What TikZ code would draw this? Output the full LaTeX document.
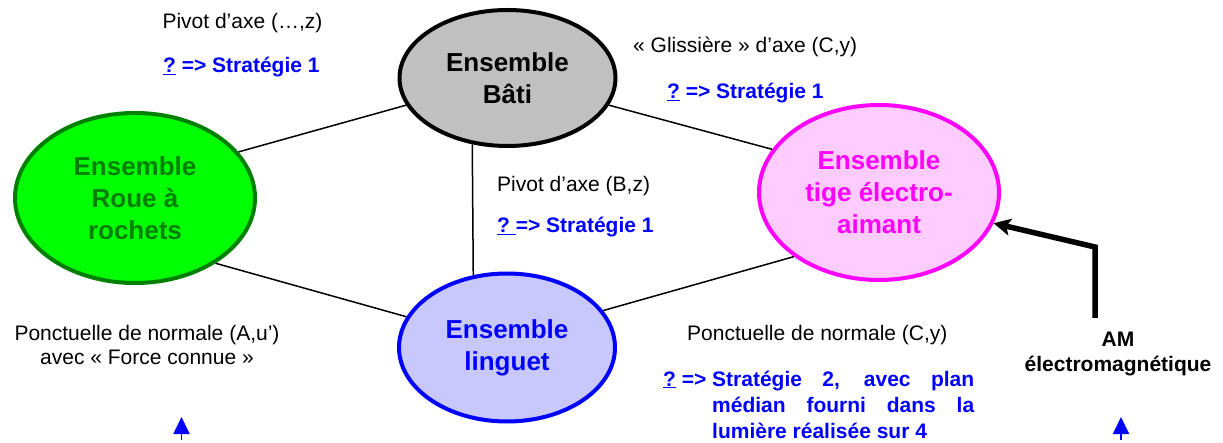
\documentclass[tikz,border=0pt]{standalone}
\usepackage{fontspec}
\setmainfont{Liberation Sans}
\usetikzlibrary{shapes.geometric,arrows.meta}
\definecolor{batigray}{RGB}{192,192,192}
\definecolor{dkgreen}{RGB}{0,128,0}
\definecolor{litgreen}{RGB}{0,255,0}
\definecolor{magen}{RGB}{255,0,255}
\definecolor{litpink}{RGB}{255,204,255}
\definecolor{litblue}{RGB}{200,200,255}
\definecolor{stratblue}{RGB}{0,0,255}
\begin{document}
\begin{tikzpicture}[x=1pt,y=-1pt,
  ens/.style={ellipse, line width=4pt, inner sep=0pt, align=center,
              font=\fontsize{26}{32}\selectfont\bfseries},
  lbl/.style={inner sep=0pt, font=\fontsize{21}{25}\selectfont},
  strat/.style={inner sep=0pt, text=stratblue, font=\fontsize{21}{25}\selectfont\bfseries},
  link/.style={line width=1.5pt},
  upblue/.style={stratblue, line width=1.8pt, -{Triangle[length=17pt,width=16pt]}},
]
\useasboundingbox (0,0) rectangle (1223,443);

% ellipses
\node[ens, draw=black, fill=batigray, minimum width=216pt, minimum height=136pt] (bati) at (507.5,78) {Ensemble\\Bâti};
\node[ens, draw=dkgreen, fill=litgreen, text=dkgreen, minimum width=240pt, minimum height=170pt] (roue) at (135,198) {Ensemble\\Roue à\\rochets};
\node[ens, draw=magen, fill=litpink, text=magen, minimum width=240pt, minimum height=175pt] (tige) at (879,192.5) {Ensemble\\tige électro-\\aimant};
\node[ens, draw=stratblue, fill=litblue, text=stratblue, minimum width=216pt, minimum height=148pt] (linguet) at (507,347.5) {Ensemble\\linguet};

% links
\draw[link] (bati.195.7) -- (roue.24.1);
\draw[link] (bati.345.1) -- (tige.158.8);
\draw[link] (bati.242.5) -- (linguet.115.5);
\draw[link] (roue.321.5) -- (linguet.163.4);
\draw[link] (linguet.21.9) -- (tige.217.7);

% labels
\node[lbl, anchor=base] (l1) at (242.5,29) {Pivot d’axe (…,z)};
\node[strat, anchor=base west] (s1) at (163,73) {\underline{?} => Stratégie 1};
\node[lbl, anchor=base west] (l2) at (633,53) {« Glissière » d’axe (C,y)};
\node[strat, anchor=base west] (s2) at (667,99) {\underline{?} => Stratégie 1};
\node[lbl, anchor=base west] (l3) at (497,192) {Pivot d’axe (B,z)};
\node[strat, anchor=base west] (s3) at (497,233) {\underline{?\ }=> Stratégie 1};
\node[lbl, anchor=base, align=center, font=\fontsize{21}{24.3}\selectfont] (l4) at (147,365) {Ponctuelle de normale (A,u’)\\avec « Force connue »};
\node[lbl, anchor=base west] (l5) at (687,340.7) {Ponctuelle de normale (C,y)};
\node[strat, anchor=base west, font=\fontsize{21}{26}\selectfont\bfseries] (s4) at (663,386)
  {\makebox[49pt][l]{\underline{?} =>}\parbox[t]{262pt}{\makebox[262pt][s]{Stratégie 2, avec plan}\\
   \makebox[262pt][s]{médian fourni dans la}\\lumière réalisée sur 4}};
\node[lbl, anchor=base, align=center, font=\fontsize{21}{25}\selectfont\bfseries] (am) at (1118,371.7) {AM\\électromagnétique};

% actuator arrow
\coordinate (amfoot) at (1095,318);
\coordinate (ambend) at (1095,247);
\draw[line width=5.5pt, -{Stealth[length=17pt,width=17pt,inset=4pt]}] (amfoot) -- (ambend) -- (tige.345.9);

% small blue arrows at bottom
\coordinate (ua) at (181.5,440);
\coordinate (ub) at (1121,440);
\draw[upblue] (ua) -- ++(0,-23);
\draw[upblue] (ub) -- ++(0,-23);
\end{tikzpicture}
\end{document}
